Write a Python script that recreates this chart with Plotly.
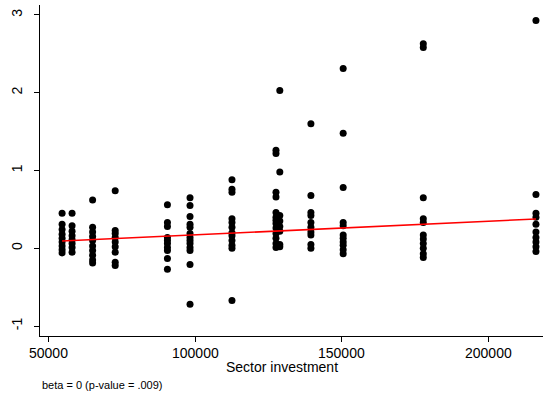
import plotly.graph_objects as go

# Column x positions (sector investment) and y values
col_x = [54700, 58100, 65100, 72800, 90600, 98300, 112600, 127600, 128900,
         139500, 150500, 177800, 216200]
col_y = [
    [0.45, 0.31, 0.24, 0.18, 0.13, 0.08, 0.03, -0.02, -0.06],
    [0.45, 0.29, 0.22, 0.16, 0.11, 0.06, 0.01, -0.05],
    [0.62, 0.27, 0.21, 0.15, 0.10, 0.03, -0.03, -0.09, -0.15, -0.19],
    [0.74, 0.23, 0.19, 0.14, 0.08, 0.02, -0.05, -0.18, -0.22],
    [0.56, 0.33, 0.28, 0.14, 0.10, 0.06, 0.01, -0.03, -0.13, -0.27],
    [0.65, 0.55, 0.41, 0.31, 0.27, 0.19, 0.14, 0.10, 0.06, 0.01, -0.03, -0.21, -0.72],
    [0.88, 0.76, 0.72, 0.38, 0.33, 0.27, 0.20, 0.16, 0.10, 0.04, 0.00, -0.67],
    [1.26, 1.22, 0.72, 0.66, 0.46, 0.40, 0.36, 0.32, 0.26, 0.19, 0.13, 0.06, 0.01],
    [2.03, 0.98, 0.42, 0.35, 0.28, 0.22, 0.05, 0.02],
    [1.60, 0.68, 0.46, 0.42, 0.33, 0.27, 0.21, 0.17, 0.05, 0.00],
    [2.31, 1.48, 0.78, 0.33, 0.29, 0.17, 0.13, 0.08, 0.04, -0.02, -0.07],
    [2.63, 2.58, 0.65, 0.38, 0.33, 0.17, 0.12, 0.06, 0.00, -0.07, -0.12],
    [2.93, 0.69, 0.45, 0.40, 0.31, 0.21, 0.14, 0.08, 0.02, -0.04],
]

# Fitted line endpoints
fit_x = [54700, 216200]
fit_y = [0.094, 0.376]

x_tick_vals = [50000, 100000, 150000, 200000]
x_tick_text = ["50000", "100000", "150000", "200000"]
y_tick_vals = [-1, 0, 1, 2, 3]
y_tick_text = ["-1", "0", "1", "2", "3"]

x_title = "Sector investment"
note_text = "beta = 0 (p-value = .009)"

xs, ys = [], []
for cx, vals in zip(col_x, col_y):
    for v in vals:
        xs.append(cx)
        ys.append(v)

FONT = "Liberation Sans, Arial, Helvetica, sans-serif"

fig = go.Figure()
fig.add_trace(go.Scatter(x=xs, y=ys, mode="markers",
                         marker=dict(color="black", size=7, line=dict(width=0)),
                         showlegend=False))
fig.add_trace(go.Scatter(x=fit_x, y=fit_y, mode="lines",
                         line=dict(color="red", width=1.6), showlegend=False))

annotations = []
for tv, tt in zip(x_tick_vals, x_tick_text):
    annotations.append(dict(text=tt, xref="x", yref="paper", x=tv, y=-0.0514,
                            xanchor="center", yanchor="middle", showarrow=False,
                            font=dict(size=14)))
annotations.append(dict(text=x_title, xref="paper", yref="paper", x=0.481, y=-0.0937,
                        xanchor="center", yanchor="middle", showarrow=False,
                        font=dict(size=14)))
annotations.append(dict(text=note_text, xref="paper", yref="paper", x=0.0, y=-0.148,
                        xanchor="left", yanchor="middle", showarrow=False,
                        font=dict(size=11)))

fig.update_layout(
    width=543, height=396,
    margin=dict(l=40, r=0, t=5, b=60),
    paper_bgcolor="white", plot_bgcolor="white",
    font=dict(family=FONT, size=14, color="black"),
    xaxis=dict(range=[47170, 218600], showgrid=False, zeroline=False,
               showline=True, linecolor="black", linewidth=1,
               ticks="outside", ticklen=5, tickcolor="black",
               tickvals=x_tick_vals, showticklabels=False),
    yaxis=dict(range=[-1.128, 3.128], showgrid=False, zeroline=False,
               showline=True, linecolor="black", linewidth=1,
               ticks="outside", ticklen=5, tickcolor="black",
               tickvals=y_tick_vals, ticktext=y_tick_text,
               tickangle=-90, tickfont=dict(size=14), ticklabelstandoff=6),
    annotations=annotations,
)

fig.write_html("out.html")
